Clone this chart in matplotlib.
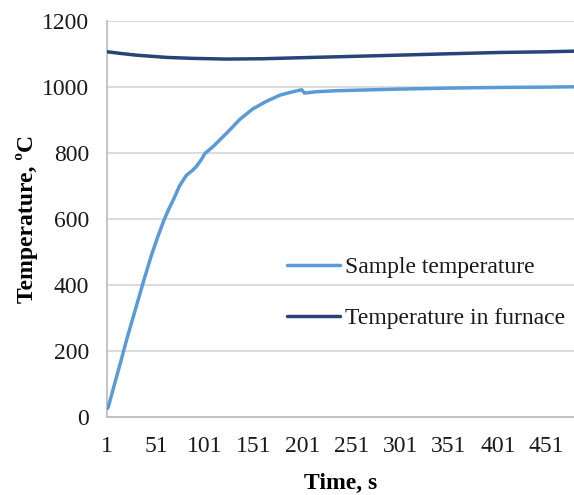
import matplotlib.pyplot as plt

# time points (s)
sample_time = [1, 2, 8, 15, 21, 30, 38, 46, 52, 59, 64, 69, 75, 82, 88, 92, 97, 101,
               109, 123, 137, 150, 164, 178, 191, 200, 203, 215, 235, 260, 300,
               350, 400, 450, 479]
sample_temp = [25, 30, 95, 170, 236, 328, 410, 488, 540, 596, 630, 660, 700, 732,
               746, 758, 778, 798, 818, 859, 902, 933, 956, 975, 985, 991, 981,
               985, 988, 990, 993, 996, 998, 999, 1000]

furnace_time = [1, 15, 30, 62, 90, 123, 160, 198, 250, 301, 350, 403, 450, 479]
furnace_temp = [1106, 1101, 1096, 1089, 1086, 1084, 1085, 1088, 1092, 1096, 1100,
                1104, 1106, 1108]

xticks = [1, 51, 101, 151, 201, 251, 301, 351, 401, 451]
yticks = [0, 200, 400, 600, 800, 1000, 1200]

plt.rcParams['font.family'] = ['Liberation Serif', 'DejaVu Serif']
plt.rcParams['text.color'] = '#1a1a1a'

fig = plt.figure(figsize=(5.74, 4.95), dpi=100)
ax = fig.add_axes([0.187, 0.158, 0.813, 0.800])

ax.plot(sample_time, sample_temp, color='#5b9bd5', linewidth=2.5,
        label='Sample temperature', zorder=3, solid_capstyle='round',
        solid_joinstyle='round')
ax.plot(furnace_time, furnace_temp, color='#264478', linewidth=2.5,
        label='Temperature in furnace', zorder=3, solid_capstyle='round',
        solid_joinstyle='round')

ax.set_xlim(1, 479)
ax.set_ylim(0, 1200)
ax.set_xticks(xticks)
ax.set_yticks(yticks)
ax.tick_params(length=0, labelsize=17, colors='#1a1a1a')
ax.tick_params(axis='x', pad=14)
ax.tick_params(axis='y', pad=13)

ax.grid(axis='y', color='#d9d9d9', linewidth=1.3)
ax.set_axisbelow(True)
for side in ('top', 'right'):
    ax.spines[side].set_visible(False)
for side in ('left', 'bottom'):
    ax.spines[side].set_color('#bfbfbf')
    ax.spines[side].set_linewidth(1.3)

ax.set_xlabel('Time, s', fontsize=17, fontweight='bold', labelpad=11)
ax.set_ylabel('Temperature, ºC', fontsize=17, fontweight='bold', labelpad=3)

fig.legend(loc='center left', bbox_to_anchor=(287 / 574, 1 - 293 / 495),
           frameon=False, fontsize=17, handlelength=2.25, handletextpad=0.2,
           labelspacing=1.25, borderpad=0, borderaxespad=0)

fig.savefig('out.png', dpi=100)
